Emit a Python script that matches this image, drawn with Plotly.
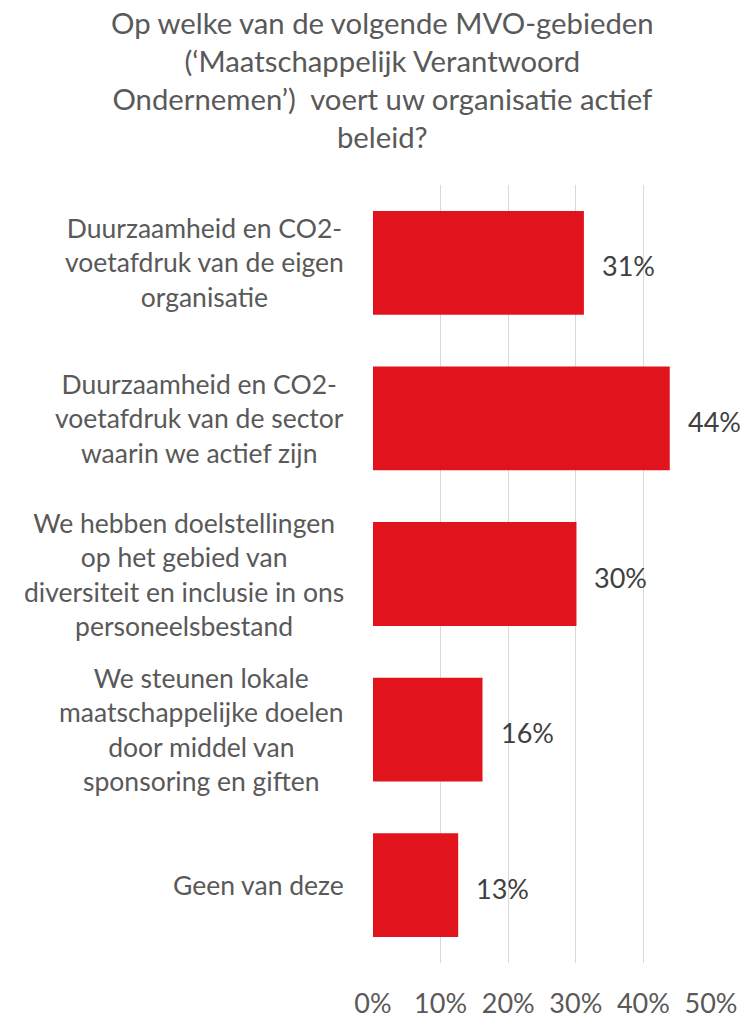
import plotly.graph_objects as go

categories = [
    "Duurzaamheid en CO2-<br>voetafdruk van de eigen<br>organisatie",
    "Duurzaamheid en CO2-<br>voetafdruk van de sector<br>waarin we actief zijn",
    "We hebben doelstellingen<br>op het gebied van<br>diversiteit en inclusie in ons<br>personeelsbestand",
    "We steunen lokale<br>maatschappelijke doelen<br>door middel van<br>sponsoring en giften",
    "Geen van deze",
]
values = [0.312, 0.439, 0.301, 0.162, 0.126]
value_labels = ["31%", "44%", "30%", "16%", "13%"]
tick_vals = [0, 0.1, 0.2, 0.3, 0.4, 0.5]
tick_text = ["0%", "10%", "20%", "30%", "40%", "50%"]
title_text = ("Op welke van de volgende MVO-gebieden<br>(‘Maatschappelijk Verantwoord<br>"
              "Ondernemen’)  voert uw organisatie actief<br>beleid?")

FONT = "Lato"
W, H = 745, 1018
L, R, T, B = 373, 34, 185, 55
PW, PH = W - L - R, H - T - B

fig = go.Figure()
fig.add_trace(go.Bar(
    x=values, y=categories, orientation="h",
    marker=dict(color="#E1141E", line=dict(width=0)),
    hoverinfo="skip",
))

annotations = []
for c, v, t in zip(categories, values, value_labels):
    annotations.append(dict(
        x=v, y=c, xref="x", yref="y", text=t, showarrow=False,
        xanchor="left", yanchor="middle", xshift=16, yshift=-3,
        font=dict(family=FONT, size=27, color="#404040"),
    ))
    annotations.append(dict(
        x=-27 / PW, y=c, xref="paper", yref="y", text=c, showarrow=False,
        xanchor="right", yanchor="middle", align="center",
        font=dict(family=FONT, size=26.5, color="#595959"),
    ))

annotations.append(dict(
    x=(382 - L) / PW, y=(H - B - 79) / PH, xref="paper", yref="paper",
    xanchor="center", yanchor="middle",
    text=title_text, showarrow=False, align="center",
    font=dict(family=FONT, size=29.3, color="#595959"),
))

fig.update_layout(
    width=W, height=H,
    margin=dict(l=L, r=R, t=T, b=B, pad=0, autoexpand=False),
    paper_bgcolor="white", plot_bgcolor="white",
    showlegend=False,
    bargap=0.333,
    annotations=annotations,
    xaxis=dict(
        range=[0, 0.5], tickvals=tick_vals, ticktext=tick_text,
        showgrid=True, gridcolor="#D9D9D9", gridwidth=1.3,
        zeroline=False, showline=False, ticks="", automargin=False,
        ticklabelstandoff=22,
        tickfont=dict(family=FONT, size=27, color="#595959"),
    ),
    yaxis=dict(
        categoryorder="array", categoryarray=categories, autorange="reversed",
        showticklabels=False, showgrid=False, zeroline=False, ticks="",
        automargin=False,
    ),
)

fig.write_html("out.html")
